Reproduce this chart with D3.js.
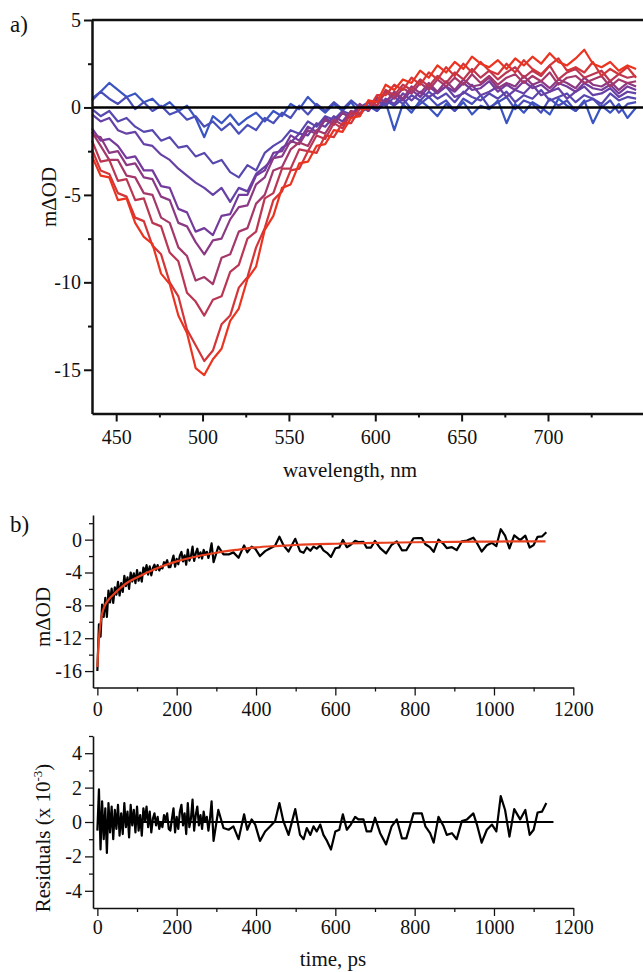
<!DOCTYPE html>
<html>
<head>
<meta charset="utf-8">
<script src="https://cdn.jsdelivr.net/npm/d3@7"></script>
<style>
body { margin: 0; background: #fff; }
svg text { font-family: "Liberation Serif", "Times New Roman", "DejaVu Serif", serif !important; fill: #111; }
</style>
</head>
<body>
<div id="chart"></div>
<script>
// ---- panel a) transient spectra, 436..751 nm every 5 nm ----
var wavelengths = d3.range(436, 752, 5);

var spec0 = [0.5, 0.9, 1.4, 1.0, 0.6, 0.8, 0.3, 0.5,
    0.0, 0.3, -0.2, 0.1, -0.6, -1.7, -0.5, -0.9,
    -0.4, -1.0, -0.6, -0.3, -0.8, -0.2, -0.5, 0.2,
    -0.1, 0.6, 0.1, -0.3, 0.2, -0.2, 0.3, -0.4,
    0.1, -0.2, 0.3, -1.3, 0.2, -0.3, 0.4, 0.0,
    -0.5, 0.2, -0.2, 0.3, -0.4, 0.1, -0.1, 0.4,
    -0.9, 0.2, -0.3, 0.3, 0.0, -0.4, 0.5, 0.1,
    -0.2, 0.4, -0.9, 0.1, -0.3, 0.2, -0.6, 0.0];
var spec1 = [0.4, 0.9, 0.5, 0.2, 0.6, -0.1, 0.3, -0.2,
    0.1, -0.4, -0.2, -0.7, -0.5, -1.1, -0.8, -1.3,
    -0.9, -1.5, -1.0, -1.3, -0.6, -0.9, -0.3, -0.6,
    0.1, -0.4, 0.2, -0.2, 0.3, -0.1, 0.4, 0.0,
    0.3, -0.2, 0.4, 0.1, 0.5, -0.1, 0.2, 0.6,
    0.1, 0.4, -0.2, 0.5, 0.2, 0.7, 0.0, 0.3,
    0.6, -0.1, 0.4, 0.2, -0.3, 0.5, 0.1, 0.4,
    -0.2, 0.3, 0.5, 0.0, 0.4, -0.3, 0.2, 0.3];
var spec2 = [-0.1, -0.5, -0.2, -0.8, -0.6, -1.1, -1.4, -1.3,
    -1.9, -1.7, -2.3, -2.2, -2.8, -2.6, -3.2, -3.0,
    -3.7, -4.0, -3.3, -3.6, -2.6, -2.2, -1.9, -1.3,
    -1.5, -0.8, -1.1, -0.5, -0.7, -0.2, -0.4, 0.1,
    -0.2, 0.4, 0.1, 0.6, 0.2, 0.7, 0.4, 0.9,
    0.5, 0.8, 0.3, 0.9, 0.6, 0.4, 0.8, 0.5,
    0.9, 0.3, 0.7, 0.5, 1.0, 0.4, 0.6, 0.8,
    0.3, 0.7, 0.5, 0.2, 0.8, 0.4, 0.6, 0.5];
var spec3 = [-0.4, -0.8, -0.6, -1.3, -1.5, -1.4, -2.1, -2.2,
    -2.7, -3.0, -3.5, -3.9, -4.3, -4.6, -5.0, -4.6,
    -5.4, -4.6, -4.8, -3.8, -3.4, -2.9, -2.3, -2.0,
    -1.5, -1.6, -0.9, -1.1, -0.5, -0.8, -0.2, -0.4,
    0.3, -0.1, 0.5, 0.2, 0.8, 0.4, 0.9, 0.6,
    0.9, 1.2, 0.6, 0.8, 1.3, 0.7, 0.9, 1.2,
    0.6, 1.0, 0.8, 1.3, 0.7, 0.9, 1.1, 0.5,
    0.9, 1.2, 0.7, 0.8, 1.1, 0.6, 0.9, 0.8];
var spec4 = [-1.2, -1.9, -1.8, -2.2, -2.9, -2.8, -3.6, -3.6,
    -4.5, -4.6, -5.8, -6.0, -7.1, -6.9, -7.3, -6.2,
    -6.1, -5.0, -5.0, -3.9, -3.6, -2.6, -2.5, -1.6,
    -1.9, -1.1, -1.4, -0.6, -0.9, -0.3, -0.6, 0.1,
    -0.1, 0.5, 0.3, 0.8, 0.4, 1.0, 0.6, 1.2,
    0.8, 1.2, 0.9, 1.4, 1.0, 1.1, 1.5, 0.9,
    1.3, 1.0, 1.5, 1.1, 1.3, 0.9, 1.4, 1.2,
    0.9, 1.4, 1.1, 1.0, 1.3, 0.8, 1.2, 1.0];
var spec5 = [-1.6, -1.7, -2.6, -2.5, -3.3, -3.2, -4.0, -4.1,
    -5.1, -5.3, -6.6, -6.8, -7.7, -8.4, -7.6, -7.5,
    -6.4, -5.7, -5.6, -4.4, -4.0, -2.9, -2.8, -1.9,
    -2.1, -1.3, -1.5, -0.7, -1.0, -0.3, -0.6, 0.2,
    -0.2, 0.6, 0.3, 0.9, 0.5, 1.2, 0.8, 1.4,
    0.9, 1.5, 1.0, 1.6, 1.2, 1.3, 1.7, 1.1,
    1.4, 1.2, 1.8, 1.3, 1.5, 1.1, 1.6, 1.4,
    1.1, 1.7, 1.3, 1.2, 1.5, 1.0, 1.4, 1.2];
var spec6 = [-1.4, -2.2, -3.0, -3.0, -3.9, -4.0, -4.9, -5.0,
    -6.3, -6.6, -8.0, -8.5, -9.9, -9.7, -10.1, -8.6,
    -8.4, -7.1, -6.9, -5.5, -5.0, -3.6, -3.4, -2.4,
    -2.0, -2.2, -1.3, -1.5, -0.7, -1.0, -0.2, -0.4,
    0.3, 0.1, 0.9, 0.5, 1.1, 0.8, 1.4, 1.0,
    1.6, 1.2, 1.7, 1.3, 1.9, 1.4, 1.8, 1.3,
    1.7, 1.9, 1.4, 1.8, 1.5, 2.0, 1.3, 1.7,
    1.8, 1.4, 1.6, 1.8, 1.2, 1.6, 1.4, 1.5];
var spec7 = [-1.9, -3.1, -3.0, -4.2, -4.1, -5.3, -5.2, -6.6,
    -6.8, -8.3, -8.8, -10.6, -11.1, -11.9, -11.0, -10.8,
    -9.4, -9.0, -7.5, -7.1, -5.2, -4.9, -3.5, -3.5,
    -2.4, -2.5, -1.6, -1.8, -0.9, -1.2, -0.3, -0.5,
    0.4, 0.1, 1.0, 0.7, 1.3, 1.0, 1.6, 1.2,
    1.8, 1.4, 2.0, 1.6, 2.2, 1.7, 2.1, 1.6,
    2.0, 2.3, 1.7, 2.1, 1.8, 2.4, 1.6, 2.0,
    2.2, 1.7, 1.9, 2.1, 1.5, 1.9, 1.7, 1.8];
var spec8 = [-2.4, -3.6, -3.8, -4.9, -5.1, -6.3, -6.5, -7.9,
    -8.4, -10.0, -10.8, -12.7, -13.6, -14.5, -13.9, -12.4,
    -11.9, -10.3, -9.7, -8.0, -6.9, -5.3, -4.8, -3.6,
    -3.5, -2.5, -2.6, -1.6, -1.7, -0.9, -0.9, -0.1,
    -0.1, 0.7, 0.7, 1.3, 1.0, 1.7, 1.3, 2.0,
    1.6, 2.3, 1.8, 2.5, 2.0, 2.6, 2.1, 1.9,
    2.5, 2.0, 2.7, 2.2, 1.9, 2.4, 2.8, 2.1,
    2.3, 2.0, 2.6, 1.8, 2.2, 1.9, 2.3, 1.7];
var spec9 = [-2.8, -3.9, -4.0, -5.3, -5.2, -6.6, -7.4, -7.8,
    -9.5, -10.1, -11.9, -12.9, -14.9, -15.3, -14.4, -13.8,
    -12.2, -11.5, -9.8, -9.1, -7.0, -6.2, -4.6, -4.4,
    -3.2, -3.1, -2.2, -2.1, -1.3, -1.4, -0.6, -0.5,
    0.4, 0.3, 1.3, 1.0, 1.6, 1.4, 2.1, 1.7,
    2.4, 2.0, 2.6, 2.2, 2.9, 2.5, 2.3, 2.7,
    2.2, 2.8, 2.4, 2.9, 2.5, 3.1, 2.6, 2.4,
    2.8, 3.3, 2.5, 2.3, 2.6, 2.1, 2.4, 2.2];
var spectra = [spec0, spec1, spec2, spec3, spec4, spec5, spec6, spec7, spec8, spec9];

var wlTicks = [450, 500, 550, 600, 650, 700];
var wlMinor = [475, 525, 575, 625, 675, 725];
var odTicks = [5, 0, -5, -10, -15];
var odMinor = [2.5, -2.5, -7.5, -12.5];

// ---- panel b) kinetic trace, fit and residuals ----
var timeEarly = d3.range(0, 289, 4);
var timeLate = [293, 305, 318, 331, 343, 356, 370, 378, 389, 398, 410, 423, 436, 448, 459, 469,
    482, 499, 511, 520, 528, 537, 545, 553, 562, 570, 579, 589, 600, 610, 619, 629,
    639, 650, 658, 671, 679, 690, 700, 713, 728, 742, 755, 768, 779, 789, 797, 810,
    818, 827, 839, 848, 860, 873, 881, 894, 906, 919, 932, 948, 957, 969, 982, 995,
    1006, 1017, 1028, 1039, 1051, 1066, 1079, 1090, 1100, 1110, 1121, 1132];
var kinTime = timeEarly.concat(timeLate);

var traceEarly = [-16.0, -10.3, -11.8, -7.9, -9.4, -7.1, -9.4, -6.2,
    -7.65, -5.95, -7.7, -5.8, -6.7, -5.15, -6.8, -5.3,
    -6.35, -4.4, -5.65, -4.6, -6.0, -4.0, -5.1, -4.1,
    -5.3, -3.7, -5.0, -4.0, -5.1, -3.4, -4.0, -3.1,
    -4.25, -3.25, -4.35, -3.45, -3.05, -3.7, -3.1, -3.75,
    -3.3, -3.5, -2.75, -2.95, -2.5, -3.35, -3.35, -2.6,
    -1.95, -3.3, -2.35, -3.0, -1.95, -1.5, -2.65, -1.9,
    -3.05, -1.2, -2.55, -2.0, -0.85, -2.6, -1.68, -1.1,
    -2.18, -1.55, -2.3, -1.25, -1.8, -1.48, -2.22, -1.48,
    -0.45];
var traceLate = [-2.75, -0.85, -1.8, -1.8, -1.55, -2.2, -0.7, -1.55, -0.85, -1.1, -2.0, -1.4, -1.05, -0.75, 0.35, -0.65,
    -1.45, 0.1, -1.4, -1.6, -0.95, -1.35, -0.85, -1.1, -0.7, -1.3, -1.6, -2.1, -1.05, -0.95, -0.03, -0.92,
    -0.62, -0.15, -0.29, -0.28, -0.98, -0.96, -0.15, -1.04, -1.68, -0.62, -0.21, -1.3, -1.29, -0.48, 0.17, 0.19,
    0.19, -0.56, -0.95, -1.49, 0.01, -0.53, -1.03, -0.92, -1.27, -0.21, -0.11, 0.24, -0.4, -1.45, -0.69, -0.38,
    -0.78, 1.27, 0.48, -1.07, 0.53, -0.06, 0.49, -0.96, -0.66, 0.34, 0.39, 0.9];
var kinTrace = traceEarly.concat(traceLate);

var fitTime = [0, 2, 5, 10, 15, 20, 30, 40, 60, 80, 100, 130, 160, 200, 250, 300, 350, 400, 450, 500, 600, 700, 800, 900, 1000, 1130];
var fitValue = [-15.5, -13.5, -11.5, -9.5, -8.5, -7.9, -7.2, -6.7, -5.8, -5.1, -4.6, -3.9, -3.3, -2.65, -2.05, -1.6, -1.25, -0.95, -0.78, -0.65, -0.5, -0.4, -0.32, -0.27, -0.23, -0.2];

var residEarly = [-0.5, 1.9, -1.6, 1.2, -1.0, 0.8, -1.8, 1.1,
    -0.6, 0.9, -1.0, 0.7, -0.4, 1.0, -0.8, 0.5,
    -0.7, 1.1, -0.3, 0.6, -0.9, 1.0, -0.2, 0.7,
    -0.6, 0.9, -0.5, 0.4, -0.8, 0.8, 0.1, 0.9,
    -0.3, 0.6, -0.6, 0.2, 0.5, -0.2, 0.3, -0.4,
    0.0, -0.3, 0.4, 0.1, 0.5, -0.4, -0.5, 0.2,
    0.8, -0.6, 0.3, -0.4, 0.6, 1.0, -0.2, 0.5,
    -0.7, 1.1, -0.3, 0.2, 1.3, -0.5, 0.4, 0.9,
    -0.2, 0.4, -0.4, 0.6, 0.0, 0.3, -0.5, 0.2,
    1.2];
var residLate = [-1.1, 0.7, -0.35, -0.45, -0.25, -1.0, 0.45, -0.45, 0.15, -0.15, -1.1, -0.55, -0.25, 0.05, 1.1, 0.05,
    -0.75, 0.75, -0.75, -1.0, -0.35, -0.75, -0.25, -0.55, -0.15, -0.75, -1.1, -1.6, -0.55, -0.45, 0.45, -0.45,
    -0.15, 0.3, 0.15, 0.15, -0.55, -0.55, 0.25, -0.65, -1.3, -0.25, 0.15, -0.95, -0.95, -0.15, 0.5, 0.5,
    0.5, -0.25, -0.65, -1.2, 0.3, -0.25, -0.75, -0.65, -1.0, 0.05, 0.15, 0.5, -0.15, -1.2, -0.45, -0.15,
    -0.55, 1.5, 0.7, -0.85, 0.75, 0.15, 0.7, -0.75, -0.45, 0.55, 0.6, 1.1];
var resid = residEarly.concat(residLate);

var timeTicks = [0, 200, 400, 600, 800, 1000, 1200];
var timeMinor = [100, 300, 500, 700, 900, 1100];
var kinTicks = [0, -4, -8, -12, -16];
var kinMinor = [2, -2, -6, -10, -14];
var resTicks = [4, 2, 0, -2, -4];
var resMinor = [5, 3, 1, -1, -3];

// ---- drawing ----
var W = 643, H = 972;
var SERIF = "'Liberation Serif', 'Times New Roman', 'DejaVu Serif', serif";
var svg = d3.select("#chart").append("svg")
    .attr("width", W)
    .attr("height", H);

var xa = d3.scaleLinear().domain([436, 755]).range([92, 643]);
var ya = d3.scaleLinear().domain([-17.5, 5]).range([413.5, 20]);
var xt = d3.scaleLinear().domain([-11, 1200]).range([93, 573.3]);
var yk = d3.scaleLinear().domain([-18, 3]).range([687.5, 515]);
var yr = d3.scaleLinear().domain([-5, 5]).range([908, 736]);

var specColor = d3.scaleLinear()
    .domain([0, 4, 9])
    .range(["#3a55c2", "#743a9c", "#eb3420"])
    .interpolate(d3.interpolateRgb);

function drawAxis(orient, scale, at, major, minor, width, pad) {
    var mk = orient === "bottom" ? d3.axisBottom : d3.axisLeft;
    var tr = orient === "bottom" ? "translate(0," + at + ")" : "translate(" + at + ",0)";
    var gMinor = svg.append("g").attr("transform", tr)
        .call(mk(scale).tickValues(minor).tickSize(4).tickSizeOuter(0).tickFormat(""));
    gMinor.select(".domain").remove();
    gMinor.selectAll(".tick line").attr("stroke", "#111").attr("stroke-width", width * 0.8);
    var gMajor = svg.append("g").attr("transform", tr)
        .attr("font-family", SERIF)
        .call(mk(scale).tickValues(major).tickSize(8).tickSizeOuter(0).tickPadding(pad)
            .tickFormat(function (d) { return String(d); }));
    gMajor.attr("font-family", SERIF).attr("font-size", 20);
    gMajor.select(".domain").attr("stroke", "#111").attr("stroke-width", width);
    gMajor.selectAll(".tick line").attr("stroke", "#111").attr("stroke-width", width * 0.8);
    gMajor.selectAll("text")
        .attr("font-family", SERIF)
        .style("font-size", "20px")
        .attr("fill", "#111");
}

// panel a
var specLine = d3.line()
    .x(function (d, i) { return xa(wavelengths[i]); })
    .y(function (d) { return ya(d); });

svg.append("g").selectAll("path")
    .data(spectra)
    .enter().append("path")
    .attr("d", specLine)
    .attr("fill", "none")
    .attr("stroke", function (d, i) { return specColor(i); })
    .attr("stroke-width", 2.2)
    .attr("stroke-linejoin", "round");

svg.append("line")
    .attr("x1", xa(436)).attr("x2", xa(755))
    .attr("y1", ya(0)).attr("y2", ya(0))
    .attr("stroke", "#000").attr("stroke-width", 2.5);

svg.append("line")
    .attr("x1", xa(436)).attr("x2", xa(755))
    .attr("y1", ya(5)).attr("y2", ya(5))
    .attr("stroke", "#111").attr("stroke-width", 2.5);

drawAxis("bottom", xa, 413.5, wlTicks, wlMinor, 2.5, 8);
drawAxis("left", ya, 92, odTicks, odMinor, 2.5, 3);

// panel b: trace + fit
var kinLine = d3.line()
    .x(function (d, i) { return xt(kinTime[i]); })
    .y(function (d) { return yk(d); });

svg.append("path")
    .datum(kinTrace)
    .attr("d", kinLine)
    .attr("fill", "none")
    .attr("stroke", "#000")
    .attr("stroke-width", 2.2)
    .attr("stroke-linejoin", "round");

var fitLine = d3.line()
    .x(function (d, i) { return xt(fitTime[i]); })
    .y(function (d) { return yk(d); })
    .curve(d3.curveMonotoneX);

svg.append("path")
    .datum(fitValue)
    .attr("d", fitLine)
    .attr("fill", "none")
    .attr("stroke", "#e8401f")
    .attr("stroke-width", 2.2);

drawAxis("bottom", xt, 687.5, timeTicks, timeMinor, 1.6, 6);
drawAxis("left", yk, 93, kinTicks, kinMinor, 1.6, 3);

// residuals
svg.append("line")
    .attr("x1", xt(0)).attr("x2", xt(1150))
    .attr("y1", yr(0)).attr("y2", yr(0))
    .attr("stroke", "#000").attr("stroke-width", 1.8);

var resLine = d3.line()
    .x(function (d, i) { return xt(kinTime[i]); })
    .y(function (d) { return yr(d); });

svg.append("path")
    .datum(resid)
    .attr("d", resLine)
    .attr("fill", "none")
    .attr("stroke", "#000")
    .attr("stroke-width", 2.2)
    .attr("stroke-linejoin", "round");

drawAxis("bottom", xt, 908, timeTicks, timeMinor, 1.6, 4);
drawAxis("left", yr, 93, resTicks, resMinor, 1.6, 3);

// labels
function label(x, y, txt, size, rot) {
    var t = svg.append("text")
        .attr("transform", "translate(" + x + "," + y + ")" + (rot ? " rotate(-90)" : ""))
        .attr("text-anchor", rot ? "middle" : "start")
        .attr("font-family", SERIF)
        .style("font-size", size + "px")
        .text(txt);
    return t;
}

label(10, 32, "a)", 23, false);
label(10, 532, "b)", 23, false);
label(350, 477, "wavelength, nm", 21, false).attr("text-anchor", "middle");
label(333, 966, "time, ps", 21, false).attr("text-anchor", "middle");
label(56, 197, "m\u0394OD", 21, true);
label(50, 617, "m\u0394OD", 21, true);

var resLabel = svg.append("text")
    .attr("transform", "translate(50,838) rotate(-90)")
    .attr("text-anchor", "middle")
    .attr("font-family", SERIF)
    .style("font-size", "21px");
resLabel.append("tspan").text("Residuals (x 10");
resLabel.append("tspan").text("-3").style("font-size", "13px").attr("dy", -8);
resLabel.append("tspan").text(")").attr("dy", 8);
</script>
</body>
</html>
